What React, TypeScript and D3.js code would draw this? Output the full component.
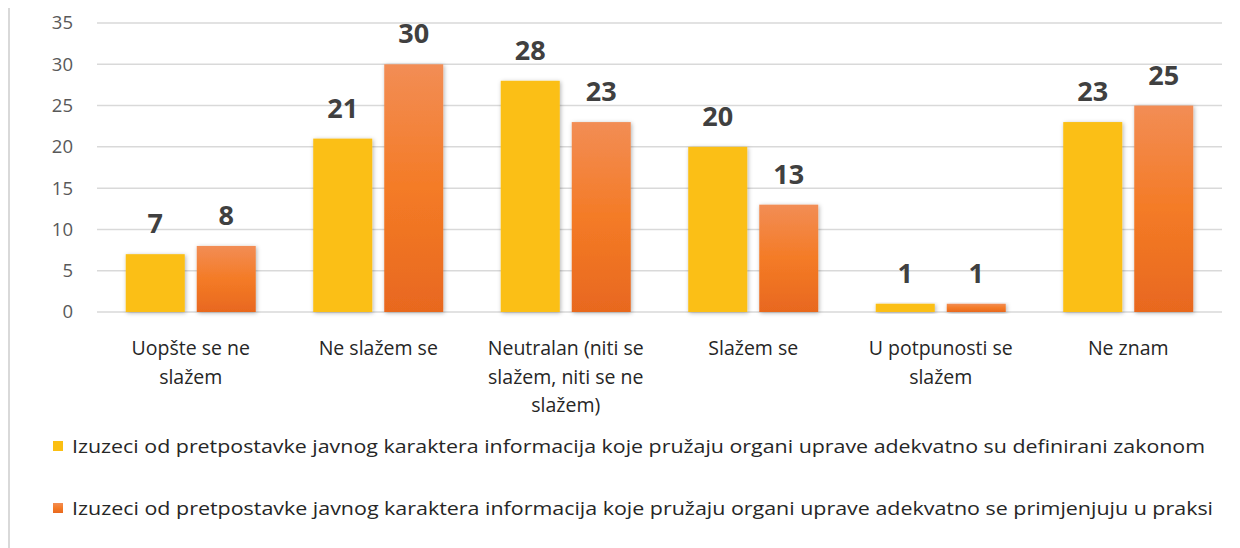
import React, { useRef, useEffect } from 'react';
import * as d3 from 'd3';

const categories = [
  ['Uopšte se ne', 'slažem'],
  ['Ne slažem se'],
  ['Neutralan (niti se', 'slažem, niti se ne', 'slažem)'],
  ['Slažem se'],
  ['U potpunosti se', 'slažem'],
  ['Ne znam'],
];
const seriesA = [7, 21, 28, 20, 1, 23];
const seriesB = [8, 30, 23, 13, 1, 25];
const seriesNames = [
  'Izuzeci od pretpostavke javnog karaktera informacija koje pružaju organi uprave adekvatno su definirani zakonom',
  'Izuzeci od pretpostavke javnog karaktera informacija koje pružaju organi uprave adekvatno se primjenjuju u praksi',
];
const yTicks = [0, 5, 10, 15, 20, 25, 30, 35];

const FONT = '"Open Sans", "Noto Sans", sans-serif';

const App: React.FC = () => {
  const svgRef = useRef<SVGSVGElement | null>(null);

  useEffect(() => {
    if (!svgRef.current) return;
    const svg = d3.select(svgRef.current);
    svg.selectAll('*').remove();

    const defs = svg.append('defs');
    const grad = defs
      .append('linearGradient')
      .attr('id', 'orangeGrad')
      .attr('x1', 0).attr('y1', 0).attr('x2', 0).attr('y2', 1);
    grad.append('stop').attr('offset', '0%').attr('stop-color', '#F28D55');
    grad.append('stop').attr('offset', '50%').attr('stop-color', '#F47B26');
    grad.append('stop').attr('offset', '100%').attr('stop-color', '#E8681F');
    const shadow = defs
      .append('filter')
      .attr('id', 'shadow')
      .attr('x', '-20%').attr('y', '-20%').attr('width', '140%').attr('height', '140%');
    shadow
      .append('feDropShadow')
      .attr('dx', 1).attr('dy', 1).attr('stdDeviation', 2)
      .attr('flood-color', '#000').attr('flood-opacity', 0.3);

    // frame
    svg
      .append('rect')
      .attr('x', 1).attr('y', -1).attr('width', 1300).attr('height', 560)
      .attr('fill', 'none').attr('stroke', '#d9d9d9').attr('stroke-width', 2);

    const left = 89;
    const right = 1214;
    const y = d3.scaleLinear().domain([0, 35]).range([304, 15]);
    const x0 = d3
      .scaleBand<number>()
      .domain(d3.range(categories.length))
      .range([left, right]);
    const barW = 59;
    const gap = 12;

    const g = svg.append('g');

    // grid
    g.selectAll('line.grid')
      .data(yTicks)
      .enter()
      .append('line')
      .attr('x1', left).attr('x2', right)
      .attr('y1', d => y(d)).attr('y2', d => y(d))
      .attr('stroke', '#d9d9d9').attr('stroke-width', 1.5);

    g.selectAll('text.ytick')
      .data(yTicks)
      .enter()
      .append('text')
      .attr('x', 65)
      .attr('y', d => y(d))
      .attr('dy', '0.35em')
      .attr('text-anchor', 'end')
      .attr('font-family', FONT)
      .attr('font-size', 18.5)
      .attr('fill', '#595959')
      .text(d => d);

    const series = [
      { vals: seriesA, fill: '#FBBF12', off: -gap / 2 - barW },
      { vals: seriesB, fill: 'url(#orangeGrad)', off: gap / 2 },
    ];

    series.forEach(s => {
      g.selectAll(null)
        .data(s.vals)
        .enter()
        .append('rect')
        .attr('x', (_, i) => x0(i)! + x0.bandwidth() / 2 + s.off)
        .attr('y', d => y(d))
        .attr('width', barW)
        .attr('height', d => y(0) - y(d))
        .attr('fill', s.fill)
        .attr('filter', 'url(#shadow)');
      g.selectAll(null)
        .data(s.vals)
        .enter()
        .append('text')
        .attr('x', (_, i) => x0(i)! + x0.bandwidth() / 2 + s.off + barW / 2)
        .attr('y', d => y(d) - 21)
        .attr('text-anchor', 'middle')
        .attr('font-family', FONT)
        .attr('font-weight', 'bold')
        .attr('font-size', 27)
        .attr('fill', '#404040')
        .text(d => d);
    });

    // category labels
    categories.forEach((lines, i) => {
      const t = g
        .append('text')
        .attr('x', x0(i)! + x0.bandwidth() / 2)
        .attr('y', 347)
        .attr('text-anchor', 'middle')
        .attr('font-family', FONT)
        .attr('font-size', 19.5)
        .attr('fill', '#262626');
      lines.forEach((l, j) => {
        t.append('tspan')
          .attr('x', x0(i)! + x0.bandwidth() / 2)
          .attr('dy', j === 0 ? 0 : 28.5)
          .text(l);
      });
    });

    // legend
    const legendY = [438, 500];
    const legendW = [1133, 1141];
    const legendFill = ['#FBBF12', 'url(#orangeGrad)'];
    seriesNames.forEach((name, i) => {
      g.append('rect')
        .attr('x', 45).attr('y', legendY[i] - 5)
        .attr('width', 10).attr('height', 10)
        .attr('fill', legendFill[i]);
      g.append('text')
        .attr('x', 64)
        .attr('y', legendY[i])
        .attr('dy', '0.35em')
        .attr('font-family', FONT)
        .attr('font-size', 19)
        .attr('fill', '#262626')
        .attr('textLength', legendW[i])
        .attr('lengthAdjust', 'spacingAndGlyphs')
        .text(name);
    });
  }, []);

  return <svg ref={svgRef} width={1232} height={540} style={{ display: 'block' }}></svg>;
};

export default App;
